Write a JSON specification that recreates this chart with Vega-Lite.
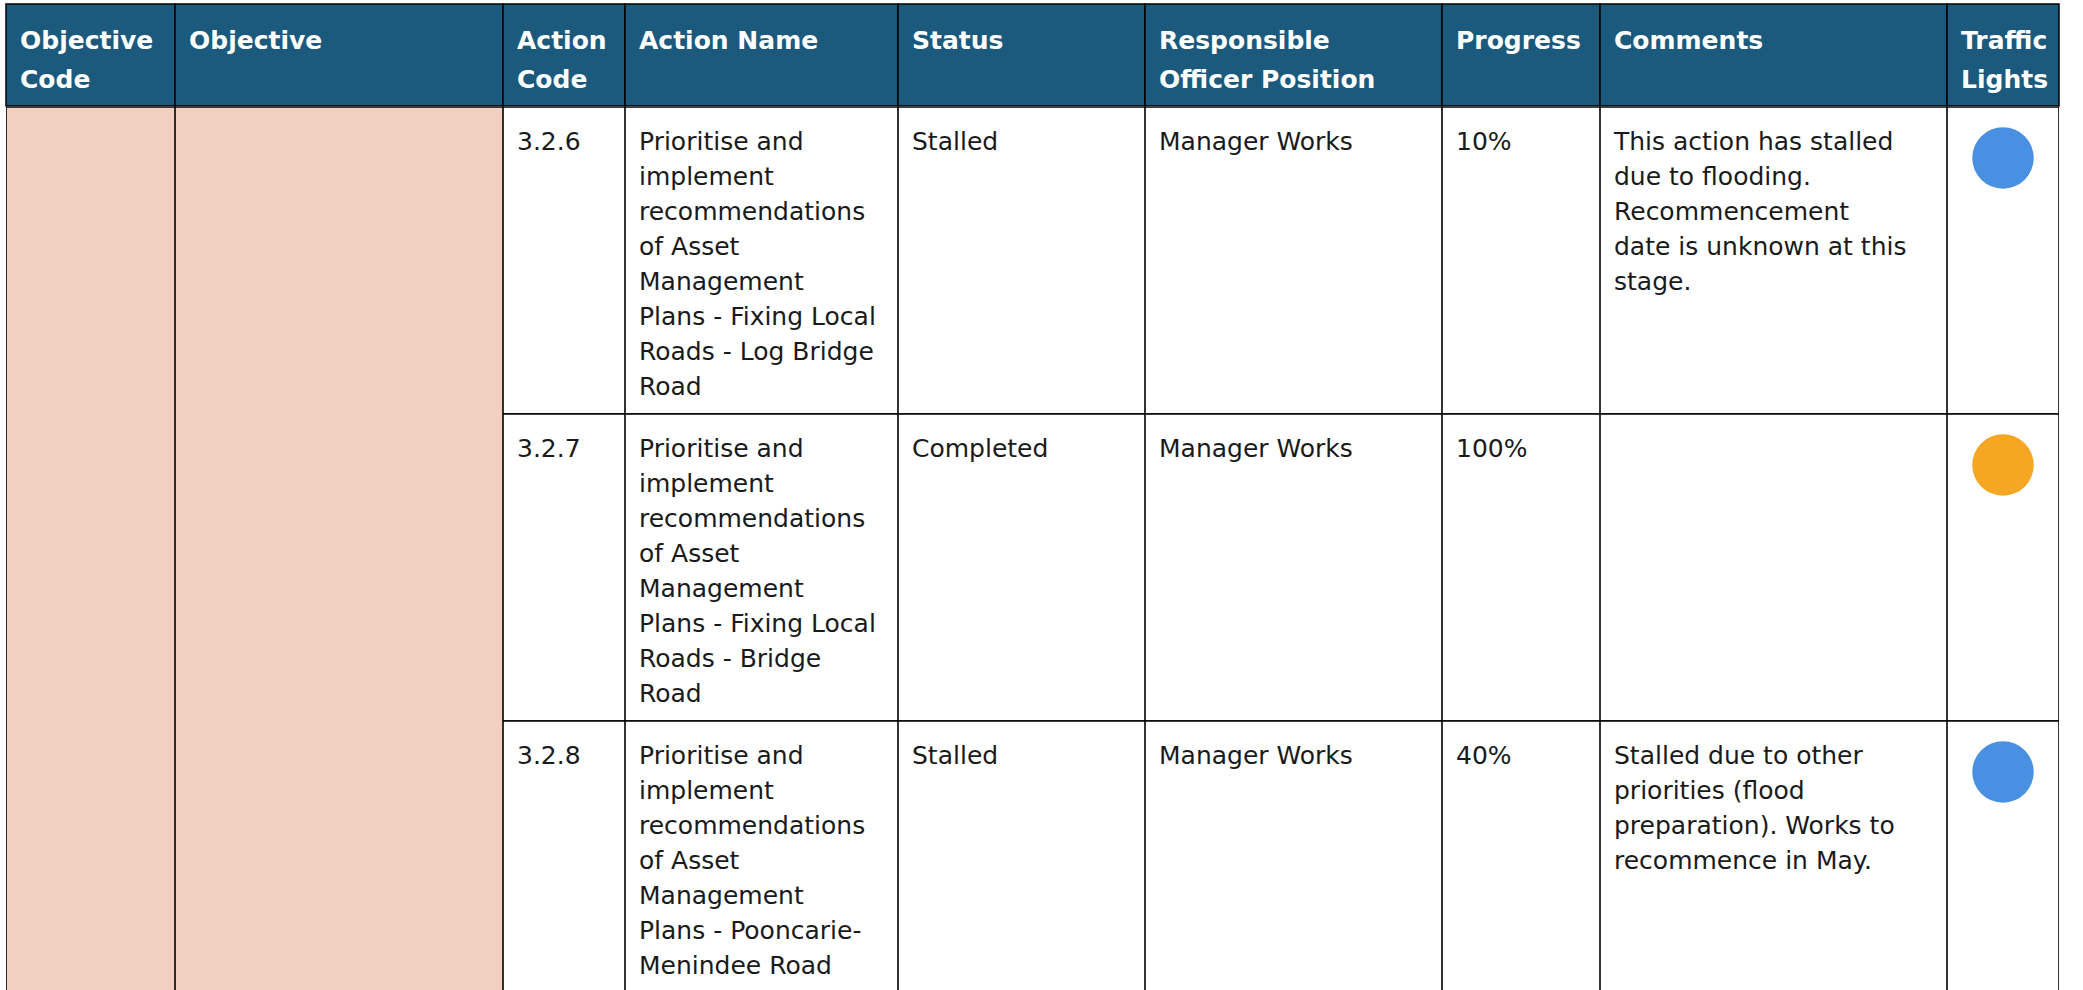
{
  "$schema": "https://vega.github.io/schema/vega-lite/v6.json",
  "padding": {"left": 5, "top": 3, "right": 0, "bottom": 0},
  "background": "#ffffff",
  "datasets": {
    "headers": [
      {"col": "Objective Code", "label": "Objective\nCode"},
      {"col": "Objective", "label": "Objective"},
      {"col": "Action Code", "label": "Action\nCode"},
      {"col": "Action Name", "label": "Action Name"},
      {"col": "Status", "label": "Status"},
      {"col": "Responsible Officer Position", "label": "Responsible\nOfficer Position"},
      {"col": "Progress", "label": "Progress"},
      {"col": "Comments", "label": "Comments"},
      {"col": "Traffic Lights", "label": "Traffic\nLights"}
    ],
    "actions": [
      {"objectiveCode": "", "objective": "", "code": "3.2.6", "name": "Prioritise and\nimplement\nrecommendations\nof Asset\nManagement\nPlans - Fixing Local\nRoads - Log Bridge\nRoad", "status": "Stalled", "officer": "Manager Works", "progress": 0.1, "comments": "This action has stalled\ndue to flooding.\nRecommencement\ndate is unknown at this\nstage."},
      {"objectiveCode": "", "objective": "", "code": "3.2.7", "name": "Prioritise and\nimplement\nrecommendations\nof Asset\nManagement\nPlans - Fixing Local\nRoads - Bridge\nRoad", "status": "Completed", "officer": "Manager Works", "progress": 1.0, "comments": ""},
      {"objectiveCode": "", "objective": "", "code": "3.2.8", "name": "Prioritise and\nimplement\nrecommendations\nof Asset\nManagement\nPlans - Pooncarie-\nMenindee Road", "status": "Stalled", "officer": "Manager Works", "progress": 0.4, "comments": "Stalled due to other\npriorities (flood\npreparation). Works to\nrecommence in May."}
    ]
  },
  "spacing": 0,
  "vconcat": [
    {"spacing": 0, "bounds": "flush", "hconcat": [
      {"width": 169, "height": 102, "view": {"fill": "#1B5A7D", "stroke": "#000000", "strokeWidth": 1.5},
       "data": {"name": "headers"}, "transform": [{"filter": {"field": "col", "equal": "Objective Code"}}],
       "mark": {"type": "text", "align": "left", "baseline": "alphabetic", "dx": 14, "dy": 45, "font": "DejaVu Sans", "fontSize": 25, "fontWeight": "bold", "lineHeight": 39, "lineBreak": "\n", "fill": "#ffffff"},
       "encoding": {"x": {"datum": 0, "type": "quantitative", "scale": {"domain": [0, 1]}, "axis": null}, "y": {"datum": 0, "type": "quantitative", "scale": {"domain": [0, 1], "reverse": true}, "axis": null}, "text": {"field": "label", "type": "nominal"}}},
      {"width": 328, "height": 102, "view": {"fill": "#1B5A7D", "stroke": "#000000", "strokeWidth": 1.5},
       "data": {"name": "headers"}, "transform": [{"filter": {"field": "col", "equal": "Objective"}}],
       "mark": {"type": "text", "align": "left", "baseline": "alphabetic", "dx": 14, "dy": 45, "font": "DejaVu Sans", "fontSize": 25, "fontWeight": "bold", "lineHeight": 39, "lineBreak": "\n", "fill": "#ffffff"},
       "encoding": {"x": {"datum": 0, "type": "quantitative", "scale": {"domain": [0, 1]}, "axis": null}, "y": {"datum": 0, "type": "quantitative", "scale": {"domain": [0, 1], "reverse": true}, "axis": null}, "text": {"field": "label", "type": "nominal"}}},
      {"width": 122, "height": 102, "view": {"fill": "#1B5A7D", "stroke": "#000000", "strokeWidth": 1.5},
       "data": {"name": "headers"}, "transform": [{"filter": {"field": "col", "equal": "Action Code"}}],
       "mark": {"type": "text", "align": "left", "baseline": "alphabetic", "dx": 14, "dy": 45, "font": "DejaVu Sans", "fontSize": 25, "fontWeight": "bold", "lineHeight": 39, "lineBreak": "\n", "fill": "#ffffff"},
       "encoding": {"x": {"datum": 0, "type": "quantitative", "scale": {"domain": [0, 1]}, "axis": null}, "y": {"datum": 0, "type": "quantitative", "scale": {"domain": [0, 1], "reverse": true}, "axis": null}, "text": {"field": "label", "type": "nominal"}}},
      {"width": 273, "height": 102, "view": {"fill": "#1B5A7D", "stroke": "#000000", "strokeWidth": 1.5},
       "data": {"name": "headers"}, "transform": [{"filter": {"field": "col", "equal": "Action Name"}}],
       "mark": {"type": "text", "align": "left", "baseline": "alphabetic", "dx": 14, "dy": 45, "font": "DejaVu Sans", "fontSize": 25, "fontWeight": "bold", "lineHeight": 39, "lineBreak": "\n", "fill": "#ffffff"},
       "encoding": {"x": {"datum": 0, "type": "quantitative", "scale": {"domain": [0, 1]}, "axis": null}, "y": {"datum": 0, "type": "quantitative", "scale": {"domain": [0, 1], "reverse": true}, "axis": null}, "text": {"field": "label", "type": "nominal"}}},
      {"width": 247, "height": 102, "view": {"fill": "#1B5A7D", "stroke": "#000000", "strokeWidth": 1.5},
       "data": {"name": "headers"}, "transform": [{"filter": {"field": "col", "equal": "Status"}}],
       "mark": {"type": "text", "align": "left", "baseline": "alphabetic", "dx": 14, "dy": 45, "font": "DejaVu Sans", "fontSize": 25, "fontWeight": "bold", "lineHeight": 39, "lineBreak": "\n", "fill": "#ffffff"},
       "encoding": {"x": {"datum": 0, "type": "quantitative", "scale": {"domain": [0, 1]}, "axis": null}, "y": {"datum": 0, "type": "quantitative", "scale": {"domain": [0, 1], "reverse": true}, "axis": null}, "text": {"field": "label", "type": "nominal"}}},
      {"width": 297, "height": 102, "view": {"fill": "#1B5A7D", "stroke": "#000000", "strokeWidth": 1.5},
       "data": {"name": "headers"}, "transform": [{"filter": {"field": "col", "equal": "Responsible Officer Position"}}],
       "mark": {"type": "text", "align": "left", "baseline": "alphabetic", "dx": 14, "dy": 45, "font": "DejaVu Sans", "fontSize": 25, "fontWeight": "bold", "lineHeight": 39, "lineBreak": "\n", "fill": "#ffffff"},
       "encoding": {"x": {"datum": 0, "type": "quantitative", "scale": {"domain": [0, 1]}, "axis": null}, "y": {"datum": 0, "type": "quantitative", "scale": {"domain": [0, 1], "reverse": true}, "axis": null}, "text": {"field": "label", "type": "nominal"}}},
      {"width": 158, "height": 102, "view": {"fill": "#1B5A7D", "stroke": "#000000", "strokeWidth": 1.5},
       "data": {"name": "headers"}, "transform": [{"filter": {"field": "col", "equal": "Progress"}}],
       "mark": {"type": "text", "align": "left", "baseline": "alphabetic", "dx": 14, "dy": 45, "font": "DejaVu Sans", "fontSize": 25, "fontWeight": "bold", "lineHeight": 39, "lineBreak": "\n", "fill": "#ffffff"},
       "encoding": {"x": {"datum": 0, "type": "quantitative", "scale": {"domain": [0, 1]}, "axis": null}, "y": {"datum": 0, "type": "quantitative", "scale": {"domain": [0, 1], "reverse": true}, "axis": null}, "text": {"field": "label", "type": "nominal"}}},
      {"width": 347, "height": 102, "view": {"fill": "#1B5A7D", "stroke": "#000000", "strokeWidth": 1.5},
       "data": {"name": "headers"}, "transform": [{"filter": {"field": "col", "equal": "Comments"}}],
       "mark": {"type": "text", "align": "left", "baseline": "alphabetic", "dx": 14, "dy": 45, "font": "DejaVu Sans", "fontSize": 25, "fontWeight": "bold", "lineHeight": 39, "lineBreak": "\n", "fill": "#ffffff"},
       "encoding": {"x": {"datum": 0, "type": "quantitative", "scale": {"domain": [0, 1]}, "axis": null}, "y": {"datum": 0, "type": "quantitative", "scale": {"domain": [0, 1], "reverse": true}, "axis": null}, "text": {"field": "label", "type": "nominal"}}},
      {"width": 112, "height": 102, "view": {"fill": "#1B5A7D", "stroke": "#000000", "strokeWidth": 1.5},
       "data": {"name": "headers"}, "transform": [{"filter": {"field": "col", "equal": "Traffic Lights"}}],
       "mark": {"type": "text", "align": "left", "baseline": "alphabetic", "dx": 14, "dy": 45, "font": "DejaVu Sans", "fontSize": 25, "fontWeight": "bold", "lineHeight": 39, "lineBreak": "\n", "fill": "#ffffff"},
       "encoding": {"x": {"datum": 0, "type": "quantitative", "scale": {"domain": [0, 1]}, "axis": null}, "y": {"datum": 0, "type": "quantitative", "scale": {"domain": [0, 1], "reverse": true}, "axis": null}, "text": {"field": "label", "type": "nominal"}}}
    ]},
    {"spacing": 0, "bounds": "flush", "hconcat": [
      {"width": 169, "height": 885, "view": {"stroke": null}, "data": {"name": "actions"},
       "mark": {"type": "rect", "fill": "#F1CFC1", "stroke": "#000000", "strokeWidth": 1.6, "clip": true},
       "encoding": {"y": {"field": "objectiveCode", "type": "nominal", "scale": {"type": "band", "range": [0, 921], "paddingInner": 0, "paddingOuter": 0}, "axis": null}}},
      {"width": 328, "height": 885, "view": {"stroke": null}, "data": {"name": "actions"},
       "mark": {"type": "rect", "fill": "#F1CFC1", "stroke": "#000000", "strokeWidth": 1.6, "clip": true},
       "encoding": {"y": {"field": "objective", "type": "nominal", "scale": {"type": "band", "range": [0, 921], "paddingInner": 0, "paddingOuter": 0}, "axis": null}}},
      {"width": 122, "height": 885, "view": {"stroke": null}, "data": {"name": "actions"},
       "layer": [
        {"mark": {"type": "rect", "fill": "#ffffff", "stroke": "#000000", "strokeWidth": 1.6, "clip": true},
         "encoding": {"y": {"field": "code", "type": "nominal", "scale": {"type": "band", "domain": ["3.2.6", "3.2.7", "3.2.8"], "range": [0, 921], "paddingInner": 0, "paddingOuter": 0}, "axis": null}}},
        {"mark": {"type": "text", "align": "left", "baseline": "alphabetic", "dx": 14, "dy": 43, "font": "DejaVu Sans", "fontSize": 25, "lineHeight": 35, "lineBreak": "\n", "fill": "#1a1a1a", "clip": true},
         "encoding": {"x": {"datum": 0, "type": "quantitative", "scale": {"domain": [0, 1]}, "axis": null}, "y": {"field": "code", "type": "nominal", "bandPosition": 0, "scale": {"type": "band", "domain": ["3.2.6", "3.2.7", "3.2.8"], "range": [0, 921], "paddingInner": 0, "paddingOuter": 0}, "axis": null}, "text": {"field": "code", "type": "nominal"}}}
       ]},
      {"width": 273, "height": 885, "view": {"stroke": null}, "data": {"name": "actions"},
       "layer": [
        {"mark": {"type": "rect", "fill": "#ffffff", "stroke": "#000000", "strokeWidth": 1.6, "clip": true},
         "encoding": {"y": {"field": "code", "type": "nominal", "scale": {"type": "band", "domain": ["3.2.6", "3.2.7", "3.2.8"], "range": [0, 921], "paddingInner": 0, "paddingOuter": 0}, "axis": null}}},
        {"mark": {"type": "text", "align": "left", "baseline": "alphabetic", "dx": 14, "dy": 43, "font": "DejaVu Sans", "fontSize": 25, "lineHeight": 35, "lineBreak": "\n", "fill": "#1a1a1a", "clip": true},
         "encoding": {"x": {"datum": 0, "type": "quantitative", "scale": {"domain": [0, 1]}, "axis": null}, "y": {"field": "code", "type": "nominal", "bandPosition": 0, "scale": {"type": "band", "domain": ["3.2.6", "3.2.7", "3.2.8"], "range": [0, 921], "paddingInner": 0, "paddingOuter": 0}, "axis": null}, "text": {"field": "name", "type": "nominal"}}}
       ]},
      {"width": 247, "height": 885, "view": {"stroke": null}, "data": {"name": "actions"},
       "layer": [
        {"mark": {"type": "rect", "fill": "#ffffff", "stroke": "#000000", "strokeWidth": 1.6, "clip": true},
         "encoding": {"y": {"field": "code", "type": "nominal", "scale": {"type": "band", "domain": ["3.2.6", "3.2.7", "3.2.8"], "range": [0, 921], "paddingInner": 0, "paddingOuter": 0}, "axis": null}}},
        {"mark": {"type": "text", "align": "left", "baseline": "alphabetic", "dx": 14, "dy": 43, "font": "DejaVu Sans", "fontSize": 25, "lineHeight": 35, "lineBreak": "\n", "fill": "#1a1a1a", "clip": true},
         "encoding": {"x": {"datum": 0, "type": "quantitative", "scale": {"domain": [0, 1]}, "axis": null}, "y": {"field": "code", "type": "nominal", "bandPosition": 0, "scale": {"type": "band", "domain": ["3.2.6", "3.2.7", "3.2.8"], "range": [0, 921], "paddingInner": 0, "paddingOuter": 0}, "axis": null}, "text": {"field": "status", "type": "nominal"}}}
       ]},
      {"width": 297, "height": 885, "view": {"stroke": null}, "data": {"name": "actions"},
       "layer": [
        {"mark": {"type": "rect", "fill": "#ffffff", "stroke": "#000000", "strokeWidth": 1.6, "clip": true},
         "encoding": {"y": {"field": "code", "type": "nominal", "scale": {"type": "band", "domain": ["3.2.6", "3.2.7", "3.2.8"], "range": [0, 921], "paddingInner": 0, "paddingOuter": 0}, "axis": null}}},
        {"mark": {"type": "text", "align": "left", "baseline": "alphabetic", "dx": 14, "dy": 43, "font": "DejaVu Sans", "fontSize": 25, "lineHeight": 35, "lineBreak": "\n", "fill": "#1a1a1a", "clip": true},
         "encoding": {"x": {"datum": 0, "type": "quantitative", "scale": {"domain": [0, 1]}, "axis": null}, "y": {"field": "code", "type": "nominal", "bandPosition": 0, "scale": {"type": "band", "domain": ["3.2.6", "3.2.7", "3.2.8"], "range": [0, 921], "paddingInner": 0, "paddingOuter": 0}, "axis": null}, "text": {"field": "officer", "type": "nominal"}}}
       ]},
      {"width": 158, "height": 885, "view": {"stroke": null}, "data": {"name": "actions"},
       "layer": [
        {"mark": {"type": "rect", "fill": "#ffffff", "stroke": "#000000", "strokeWidth": 1.6, "clip": true},
         "encoding": {"y": {"field": "code", "type": "nominal", "scale": {"type": "band", "domain": ["3.2.6", "3.2.7", "3.2.8"], "range": [0, 921], "paddingInner": 0, "paddingOuter": 0}, "axis": null}}},
        {"mark": {"type": "text", "align": "left", "baseline": "alphabetic", "dx": 14, "dy": 43, "font": "DejaVu Sans", "fontSize": 25, "lineHeight": 35, "fill": "#1a1a1a", "clip": true},
         "encoding": {"x": {"datum": 0, "type": "quantitative", "scale": {"domain": [0, 1]}, "axis": null}, "y": {"field": "code", "type": "nominal", "bandPosition": 0, "scale": {"type": "band", "domain": ["3.2.6", "3.2.7", "3.2.8"], "range": [0, 921], "paddingInner": 0, "paddingOuter": 0}, "axis": null}, "text": {"field": "progress", "type": "quantitative", "format": ".0%"}}}
       ]},
      {"width": 347, "height": 885, "view": {"stroke": null}, "data": {"name": "actions"},
       "layer": [
        {"mark": {"type": "rect", "fill": "#ffffff", "stroke": "#000000", "strokeWidth": 1.6, "clip": true},
         "encoding": {"y": {"field": "code", "type": "nominal", "scale": {"type": "band", "domain": ["3.2.6", "3.2.7", "3.2.8"], "range": [0, 921], "paddingInner": 0, "paddingOuter": 0}, "axis": null}}},
        {"mark": {"type": "text", "align": "left", "baseline": "alphabetic", "dx": 14, "dy": 43, "font": "DejaVu Sans", "fontSize": 25, "lineHeight": 35, "lineBreak": "\n", "fill": "#1a1a1a", "clip": true},
         "encoding": {"x": {"datum": 0, "type": "quantitative", "scale": {"domain": [0, 1]}, "axis": null}, "y": {"field": "code", "type": "nominal", "bandPosition": 0, "scale": {"type": "band", "domain": ["3.2.6", "3.2.7", "3.2.8"], "range": [0, 921], "paddingInner": 0, "paddingOuter": 0}, "axis": null}, "text": {"field": "comments", "type": "nominal"}}}
       ]},
      {"width": 112, "height": 885, "view": {"stroke": null}, "data": {"name": "actions"},
       "layer": [
        {"mark": {"type": "rect", "fill": "#ffffff", "stroke": "#000000", "strokeWidth": 1.6, "clip": true},
         "encoding": {"y": {"field": "code", "type": "nominal", "scale": {"type": "band", "domain": ["3.2.6", "3.2.7", "3.2.8"], "range": [0, 921], "paddingInner": 0, "paddingOuter": 0}, "axis": null}}},
        {"mark": {"type": "point", "shape": "circle", "filled": true, "opacity": 1, "size": 3780, "strokeWidth": 0, "clip": true},
         "encoding": {"y": {"field": "code", "type": "nominal", "bandPosition": 0.166, "scale": {"type": "band", "domain": ["3.2.6", "3.2.7", "3.2.8"], "range": [0, 921], "paddingInner": 0, "paddingOuter": 0}, "axis": null}, "color": {"field": "status", "type": "nominal", "scale": {"domain": ["Stalled", "Completed"], "range": ["#4A90E2", "#F5A623"]}, "legend": null}}}
       ]}
    ]}
  ],
  "config": {"view": {"stroke": null}, "concat": {"spacing": 0}}
}
